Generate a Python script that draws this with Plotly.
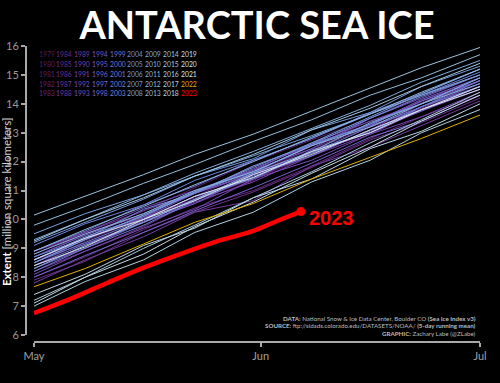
import plotly.graph_objects as go

# ---------------- data ----------------
dates = ["2023-05-01", "2023-05-08", "2023-05-16", "2023-05-23", "2023-05-31",
         "2023-06-08", "2023-06-16", "2023-06-23", "2023-07-01"]

years = list(range(1979, 2023))

extent_rows = [
    [8.40, 9.25, 10.05, 10.65, 11.40, 12.20, 13.10, 13.85, 14.60],  # 1979
    [8.90, 9.45, 10.30, 11.10, 12.00, 12.75, 13.50, 14.30, 15.00],  # 1980
    [8.50, 9.35, 10.10, 10.75, 11.55, 12.55, 13.40, 14.05, 14.90],  # 1981
    [8.60, 9.15, 9.95, 10.80, 11.65, 12.30, 13.00, 13.80, 14.50],   # 1982
    [8.30, 9.10, 9.90, 10.55, 11.35, 12.40, 13.20, 13.85, 14.70],   # 1983
    [8.00, 8.70, 9.65, 10.40, 11.00, 11.85, 12.80, 13.55, 14.30],   # 1984
    [8.70, 9.50, 10.15, 10.90, 11.85, 12.55, 13.30, 14.10, 14.90],  # 1985
    [7.90, 8.55, 9.55, 10.25, 10.95, 11.80, 12.75, 13.35, 14.20],   # 1986
    [8.80, 9.55, 10.30, 10.90, 11.55, 12.45, 13.25, 13.80, 14.60],  # 1987
    [8.20, 8.90, 9.75, 10.65, 11.55, 12.20, 13.10, 14.00, 14.80],   # 1988
    [7.80, 8.60, 9.40, 10.25, 10.65, 11.85, 12.50, 13.25, 14.10],   # 1989
    [8.60, 9.35, 10.05, 10.70, 11.60, 12.30, 13.00, 13.75, 14.50],  # 1990
    [8.40, 9.00, 9.95, 10.60, 11.30, 12.20, 12.95, 13.55, 14.40],   # 1991
    [8.10, 8.90, 9.70, 10.35, 11.40, 12.05, 12.95, 13.80, 14.60],   # 1992
    [8.90, 9.55, 10.40, 11.00, 11.70, 12.65, 13.40, 14.00, 14.80],  # 1993
    [8.50, 9.30, 10.05, 10.90, 11.70, 12.45, 13.50, 14.20, 15.00],  # 1994
    [8.30, 9.00, 9.90, 10.55, 11.55, 12.30, 13.05, 13.90, 14.70],   # 1995
    [8.70, 9.45, 10.20, 10.95, 11.75, 12.60, 13.30, 14.15, 14.90],  # 1996
    [8.00, 8.75, 9.55, 10.30, 11.10, 11.95, 12.85, 13.40, 14.30],   # 1997
    [8.60, 9.30, 10.15, 10.90, 11.60, 12.60, 13.25, 14.10, 14.80],  # 1998
    [8.40, 9.15, 9.90, 10.70, 11.50, 12.20, 13.10, 13.75, 14.60],   # 1999
    [8.90, 9.60, 10.50, 11.15, 12.05, 12.80, 13.70, 14.35, 15.20],  # 2000
    [8.20, 9.00, 9.80, 10.65, 11.45, 12.30, 13.20, 13.90, 14.80],   # 2001
    [8.50, 9.20, 10.00, 10.80, 11.40, 12.40, 13.00, 13.90, 14.60],  # 2002
    [9.10, 9.85, 10.50, 11.35, 12.05, 12.80, 13.65, 14.30, 15.10],  # 2003
    [8.70, 9.35, 10.35, 10.90, 11.85, 12.60, 13.50, 14.25, 15.00],  # 2004
    [8.60, 9.40, 10.10, 10.95, 11.65, 12.55, 13.30, 14.00, 14.90],  # 2005
    [9.20, 9.90, 10.70, 11.50, 12.10, 13.10, 13.70, 14.60, 15.30],  # 2006
    [8.50, 9.30, 10.15, 10.95, 11.80, 12.65, 13.55, 14.35, 15.20],  # 2007
    [9.50, 10.20, 10.85, 11.50, 12.20, 12.90, 13.65, 14.30, 15.00], # 2008
    [8.30, 9.10, 9.90, 10.70, 11.60, 12.35, 13.35, 14.00, 14.90],   # 2009
    [9.30, 10.00, 10.85, 11.60, 12.35, 13.15, 13.95, 14.75, 15.50], # 2010
    [8.80, 9.50, 10.20, 11.00, 11.65, 12.55, 13.20, 14.00, 14.70],  # 2011
    [8.90, 9.65, 10.45, 11.20, 12.00, 12.85, 13.65, 14.40, 15.20],  # 2012
    [9.80, 10.45, 11.25, 11.90, 12.70, 13.45, 14.30, 14.90, 15.70], # 2013
    [10.15, 10.80, 11.55, 12.25, 12.95, 13.75, 14.55, 15.25, 15.95],# 2014
    [9.25, 10.00, 10.75, 11.50, 12.25, 13.10, 13.85, 14.60, 15.40], # 2015
    [7.20, 8.00, 9.00, 9.80, 10.75, 11.65, 12.65, 13.45, 14.40],    # 2016
    [7.00, 7.85, 8.60, 9.55, 10.25, 11.30, 12.05, 13.00, 13.80],    # 2017
    [7.40, 8.10, 9.10, 9.70, 10.75, 11.40, 12.45, 13.05, 14.00],    # 2018
    [7.10, 8.00, 8.80, 9.75, 10.60, 11.60, 12.50, 13.40, 14.30],    # 2019
    [8.40, 9.05, 10.00, 10.65, 11.55, 12.25, 13.10, 13.80, 14.60],  # 2020
    [8.60, 9.35, 10.00, 10.80, 11.45, 12.35, 13.00, 13.80, 14.50],  # 2021
    [7.67, 8.30, 9.15, 9.90, 10.55, 11.40, 12.15, 12.80, 13.61],    # 2022
]

dates_2023 = ["2023-05-01", "2023-05-06", "2023-05-11", "2023-05-16", "2023-05-21",
              "2023-05-26", "2023-05-31", "2023-06-03", "2023-06-06 12:00"]
extent_2023 = [6.76, 7.25, 7.80, 8.33, 8.80, 9.24, 9.60, 9.92, 10.27]

legend_years = list(range(1979, 2024))
y_ticks = [6, 7, 8, 9, 10, 11, 12, 13, 14, 15, 16]
x_tick_vals = ["2023-05-01", "2023-06-01", "2023-07-01"]
x_tick_text = ["May", "Jun", "Jul"]

source_lines = [
    "<b>DATA:</b> National Snow &amp; Ice Data Center, Boulder CO <b>(Sea Ice Index v3)</b>",
    "<b>SOURCE:</b> ftp://sidads.colorado.edu/DATASETS/NOAA/ <b>(5-day running mean)</b>",
    "<b>GRAPHIC:</b> Zachary Labe (@ZLabe)",
]

# ---------------- styling helpers ----------------
# approximate cmocean "dense" colormap stops (light -> dark)
dense_stops = [
    (0.0, (228, 238, 238)), (0.1, (184, 214, 226)), (0.2, (146, 190, 222)),
    (0.3, (122, 164, 220)), (0.4, (112, 136, 220)), (0.5, (116, 108, 212)),
    (0.6, (120, 82, 192)), (0.7, (116, 60, 160)), (0.8, (104, 42, 128)),
    (0.9, (84, 28, 94)), (1.0, (54, 14, 36)),
]


def dense(t):
    for (t0, c0), (t1, c1) in zip(dense_stops[:-1], dense_stops[1:]):
        if t0 <= t <= t1:
            a = (t - t0) / (t1 - t0)
            c = [round(c0[i] + a * (c1[i] - c0[i])) for i in range(3)]
            return "rgb(%d,%d,%d)" % tuple(c)
    return "rgb(%d,%d,%d)" % dense_stops[-1][1]


def year_color(y):
    if y == 2022:
        return "#e0b000"
    if y == 2023:
        return "#ff0000"
    t = 0.03 + 0.87 * (2021 - y) / (2021 - 1979)
    return dense(t)


# ---------------- figure ----------------
W, H = 500, 383
ML, MR, MT, MB = 26, 20, 46, 41
PW, PH = W - ML - MR, H - MT - MB


def px_x(px):
    return (px - ML) / PW


def px_y(py):
    return (H - MB - py) / PH


fig = go.Figure()

for yr, row in zip(years, extent_rows):
    fig.add_trace(go.Scatter(
        x=dates, y=row, mode="lines",
        line=dict(color=year_color(yr), width=1),
        hoverinfo="skip", showlegend=False,
    ))

fig.add_trace(go.Scatter(
    x=dates_2023, y=extent_2023, mode="lines",
    line=dict(color="#ff0000", width=4.5, shape="spline"),
    showlegend=False,
))
fig.add_trace(go.Scatter(
    x=[dates_2023[-1]], y=[extent_2023[-1]], mode="markers",
    marker=dict(color="#ff0000", size=9),
    showlegend=False,
))

axis_col = "#a8a8a8"
fig.update_layout(
    width=W, height=H,
    paper_bgcolor="black", plot_bgcolor="black",
    margin=dict(l=ML, r=MR, t=MT, b=MB, pad=0, autoexpand=False),
    font=dict(family="Lato, DejaVu Sans, sans-serif", color=axis_col),
    title=dict(
        text="<b>ANTARCTIC SEA ICE</b>",
        x=257 / W, xanchor="center", y=1 - 26 / H, yanchor="middle",
        font=dict(family="Lato", size=38, color="white"),
    ),
    xaxis=dict(
        type="date", range=["2023-05-01", "2023-07-01"],
        domain=[px_x(34), 1], anchor="free", position=0, automargin=False,
        showline=True, linecolor=axis_col, linewidth=2,
        ticks="outside", ticklen=4, tickwidth=2, tickcolor=axis_col,
        tickvals=x_tick_vals, ticktext=x_tick_text,
        tickfont=dict(size=11, color="#a0a0a0"),
        showgrid=False, zeroline=False,
    ),
    yaxis=dict(
        range=[6, 16], domain=[px_y(335), 1], anchor="free", position=0,
        automargin=False,
        showline=True, linecolor=axis_col, linewidth=2,
        ticks="outside", ticklen=4, tickwidth=2, tickcolor=axis_col,
        tickvals=y_ticks, tickfont=dict(size=11, color="#9a9a9a"),
        showgrid=False, zeroline=False,
    ),
)

annotations = []
# year legend grid (5 rows x 9 columns)
for i, yr in enumerate(legend_years):
    col, row = divmod(i, 5)
    annotations.append(dict(
        text=str(yr), xref="paper", yref="paper",
        x=px_x(36.5 + col * 17.75), y=px_y(54 + row * 9.85),
        xanchor="left", yanchor="middle", showarrow=False,
        font=dict(family="Lato", size=6.8, color=year_color(yr)),
    ))

# y-axis title
annotations.append(dict(
    text="<b><span style='color:white'>Extent</span></b> [million square kilometers]",
    xref="paper", yref="paper", x=px_x(7), y=px_y(202),
    xanchor="center", yanchor="middle", textangle=-90, showarrow=False,
    font=dict(family="Lato", size=11.5, color="#d0d0d0"),
))

# source text
for k, line in enumerate(source_lines):
    annotations.append(dict(
        text=line, xref="paper", yref="paper",
        x=px_x(478), y=px_y(318 + k * 7.5),
        xanchor="right", yanchor="middle", showarrow=False,
        font=dict(family="Lato", size=6.2, color="#bdbdbd"),
    ))

# 2023 label
annotations.append(dict(
    text="<b>2023</b>", x=dates_2023[-1], y=extent_2023[-1],
    xref="x", yref="y", xanchor="left", yanchor="middle",
    xshift=6, yshift=-6, showarrow=False,
    font=dict(family="Liberation Sans", size=20, color="#ff0000"),
))

fig.update_layout(annotations=annotations)

fig.write_html("out.html")
